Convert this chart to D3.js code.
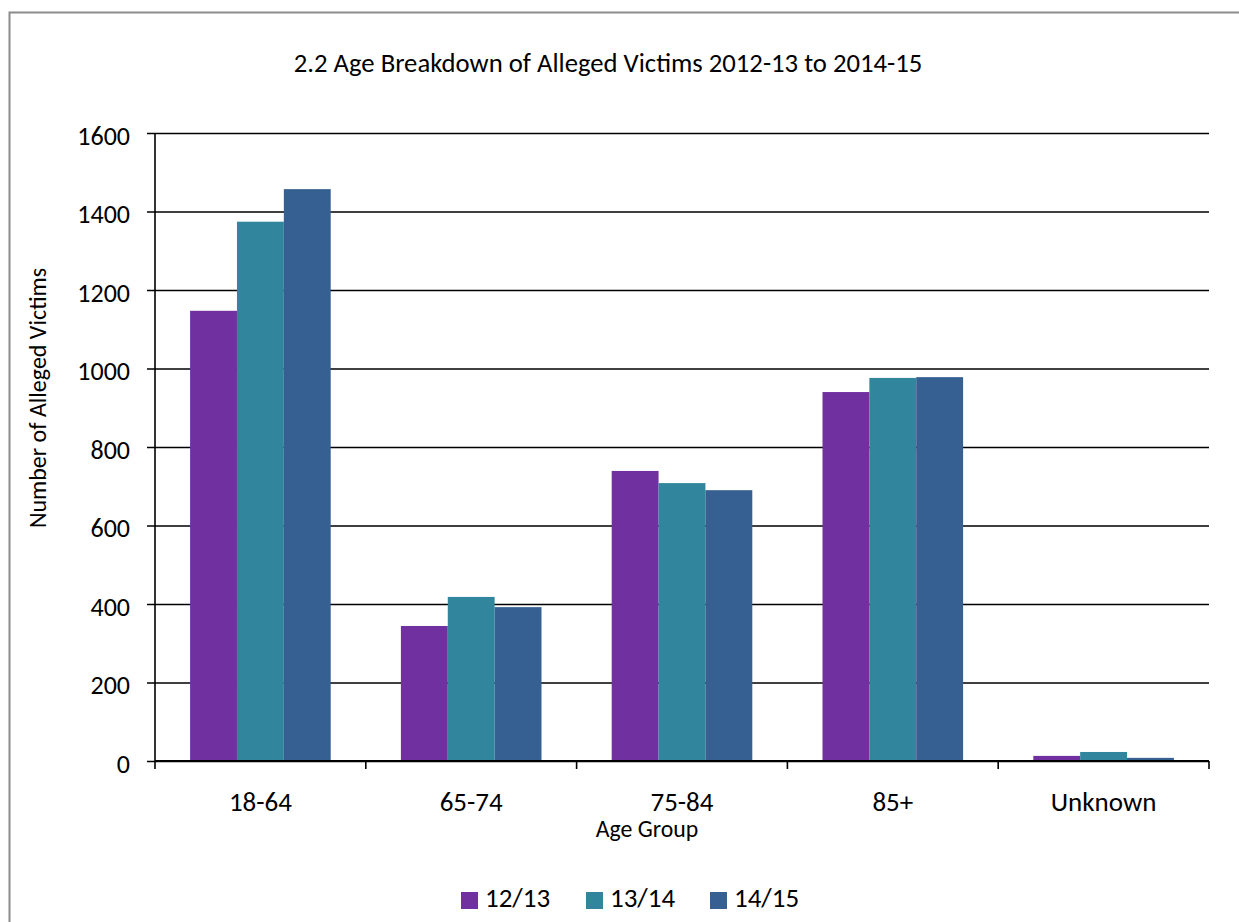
<!DOCTYPE html>
<html>
<head>
<meta charset="utf-8">
<script src="https://cdn.jsdelivr.net/npm/d3@7"></script>
<style>
  html, body { margin: 0; padding: 0; background: #fff; }
  svg { display: block; }
  text { font-family: Carlito, Calibri, Lato, "Open Sans", sans-serif; fill: #000; }
</style>
</head>
<body>
<svg id="chart" width="1239" height="922"></svg>
<script>
// Age groups and alleged victim counts per reporting year
const ageGroups = ["18-64", "65-74", "75-84", "85+", "Unknown"];
const years = ["12/13", "13/14", "14/15"];
const values1213 = [1147, 344, 739, 940, 13];
const values1314 = [1374, 418, 708, 976, 23];
const values1415 = [1457, 392, 690, 978, 8];
const yTicks = [0, 200, 400, 600, 800, 1000, 1200, 1400, 1600];
const colors = ["#7030A0", "#31859C", "#366092"];

const seriesValues = [values1213, values1314, values1415];

const svg = d3.select("#chart");

// outer chart frame
svg.append("rect")
  .attr("x", 9.5).attr("y", 12.5)
  .attr("width", 1240).attr("height", 930)
  .attr("fill", "#fff").attr("stroke", "#8c8c8c").attr("stroke-width", 2);

const plot = { left: 155, right: 1209, top: 133, bottom: 761 };

const x0 = d3.scaleBand()
  .domain(ageGroups)
  .range([plot.left, plot.right])
  .paddingInner(0.333).paddingOuter(0.1665);

const x1 = d3.scaleBand()
  .domain(years)
  .range([0, x0.bandwidth()]);

const y = d3.scaleLinear().domain([0, 1600]).range([plot.bottom, plot.top]);

// horizontal gridlines with left-hand tick marks
const yAxis = d3.axisLeft(y)
  .tickValues(yTicks)
  .tickSize(-(plot.right - plot.left))
  .tickPadding(25)
  .tickFormat(d3.format("d"));

const gy = svg.append("g")
  .attr("transform", `translate(${plot.left},0)`)
  .call(yAxis);
gy.select(".domain").remove();
gy.selectAll(".tick line")
  .attr("x1", -8)
  .attr("stroke", "#000").attr("stroke-width", 1.6);
gy.selectAll(".tick text")
  .attr("font-size", 26)
  .attr("font-family", "Carlito, Calibri, Lato, sans-serif")
  .attr("dy", "0.44em");

// bars
const groups = svg.append("g").selectAll("g")
  .data(ageGroups)
  .join("g")
  .attr("transform", d => `translate(${x0(d)},0)`);

groups.selectAll("rect")
  .data((d, i) => years.map((yr, s) => ({ yr, s, v: seriesValues[s][i] })))
  .join("rect")
  .attr("x", d => x1(d.yr))
  .attr("width", x1.bandwidth())
  .attr("y", d => y(d.v))
  .attr("height", d => y(0) - y(d.v))
  .attr("fill", d => colors[d.s]);

// vertical axis line
svg.append("line")
  .attr("x1", plot.left).attr("x2", plot.left)
  .attr("y1", plot.top).attr("y2", plot.bottom)
  .attr("stroke", "#000").attr("stroke-width", 1.6);

// category axis with boundary ticks
const xLine = svg.append("g");
xLine.append("line")
  .attr("x1", plot.left).attr("x2", plot.right)
  .attr("y1", plot.bottom).attr("y2", plot.bottom)
  .attr("stroke", "#000").attr("stroke-width", 1.8);

const boundaries = d3.range(ageGroups.length + 1).map(i => plot.left + i * (plot.right - plot.left) / ageGroups.length);
xLine.selectAll("line.bt")
  .data(boundaries)
  .join("line")
  .attr("class", "bt")
  .attr("x1", d => d).attr("x2", d => d)
  .attr("y1", plot.bottom).attr("y2", plot.bottom + 8)
  .attr("stroke", "#000").attr("stroke-width", 1.6);

xLine.selectAll("text")
  .data(ageGroups)
  .join("text")
  .attr("x", d => x0(d) + x0.bandwidth() / 2)
  .attr("y", 811)
  .attr("text-anchor", "middle")
  .attr("font-size", 27)
  .text(d => d);

// titles
svg.append("text")
  .attr("x", 608).attr("y", 72)
  .attr("text-anchor", "middle")
  .attr("font-size", 26.7)
  .text("2.2 Age Breakdown of Alleged Victims 2012-13 to 2014-15");

svg.append("text")
  .attr("x", 647).attr("y", 837)
  .attr("text-anchor", "middle")
  .attr("font-size", 23.8)
  .text("Age Group");

svg.append("text")
  .attr("transform", "translate(46,398) rotate(-90)")
  .attr("text-anchor", "middle")
  .attr("font-size", 24)
  .text("Number of Alleged Victims");

// legend
const legendX = [461, 586, 710];
const legend = svg.append("g").selectAll("g")
  .data(years)
  .join("g")
  .attr("transform", (d, i) => `translate(${legendX[i]},892)`);
legend.append("rect")
  .attr("width", 17).attr("height", 17)
  .attr("fill", (d, i) => colors[i]);
legend.append("text")
  .attr("x", 24).attr("y", 15)
  .attr("font-size", 27)
  .text(d => d);
</script>
</body>
</html>
